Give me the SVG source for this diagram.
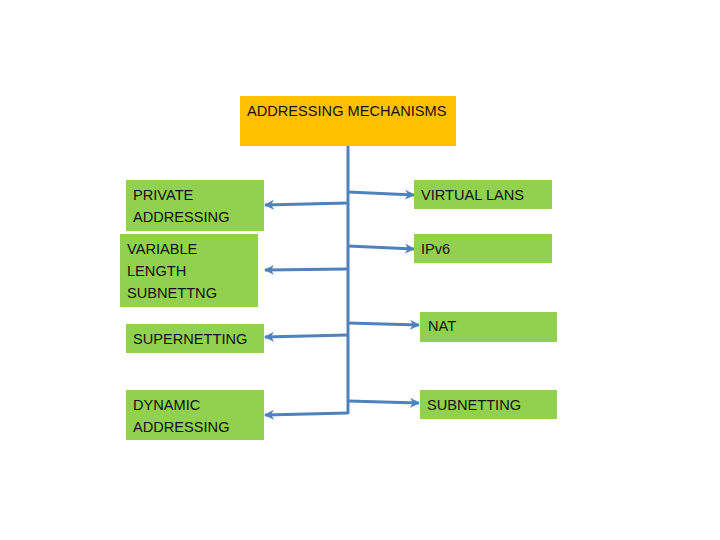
<svg xmlns="http://www.w3.org/2000/svg" width="720" height="540" viewBox="0 0 720 540">
<defs>
<style>
.g{fill:#92D050}
.o{fill:#FFC000}
text{font-family:"Liberation Sans",Arial,sans-serif;font-size:14.6px;fill:#111}
.c{stroke:#4F81BD;stroke-width:3;fill:none}
</style>
<marker id="ah" markerWidth="11" markerHeight="11" refX="9" refY="5.5" orient="auto" markerUnits="userSpaceOnUse" viewBox="0 0 11 11">
<path d="M0,0.5 L10,5.5 L0,10.5 L3,5.5 Z" fill="#4F81BD"/>
</marker>
</defs>
<rect width="720" height="540" fill="#fff"/>
<g id="connectors">
<line class="c" x1="348" y1="146" x2="348" y2="414"/>
<line class="c" x1="348" y1="203" x2="265" y2="205" marker-end="url(#ah)"/>
<line class="c" x1="348" y1="269" x2="265" y2="270" marker-end="url(#ah)"/>
<line class="c" x1="348" y1="335" x2="265" y2="337" marker-end="url(#ah)"/>
<line class="c" x1="348" y1="413" x2="265" y2="415" marker-end="url(#ah)"/>
<line class="c" x1="348" y1="192" x2="414" y2="195" marker-end="url(#ah)"/>
<line class="c" x1="348" y1="246" x2="414" y2="249" marker-end="url(#ah)"/>
<line class="c" x1="348" y1="323" x2="419" y2="325" marker-end="url(#ah)"/>
<line class="c" x1="348" y1="401" x2="419" y2="403" marker-end="url(#ah)"/>
</g>
<g id="addressing-mechanisms">
<rect class="o" x="240" y="96" width="216" height="50"/>
<text x="247" y="116">ADDRESSING MECHANISMS</text>
</g>
<g id="private-addressing">
<rect class="g" x="126" y="180" width="138" height="51"/>
<text x="133" y="200">PRIVATE</text>
<text x="133" y="222">ADDRESSING</text>
</g>
<g id="variable-length-subnetting">
<rect class="g" x="120" y="234" width="138" height="73"/>
<text x="127" y="254">VARIABLE</text>
<text x="127" y="276">LENGTH</text>
<text x="127" y="298">SUBNETTNG</text>
</g>
<g id="supernetting">
<rect class="g" x="126" y="324" width="138" height="29"/>
<text x="133" y="344">SUPERNETTING</text>
</g>
<g id="dynamic-addressing">
<rect class="g" x="126" y="390" width="138" height="50"/>
<text x="133" y="410">DYNAMIC</text>
<text x="133" y="432">ADDRESSING</text>
</g>
<g id="virtual-lans">
<rect class="g" x="414" y="180" width="138" height="29"/>
<text x="421" y="200">VIRTUAL LANS</text>
</g>
<g id="ipv6">
<rect class="g" x="414" y="234" width="138" height="29"/>
<text x="421" y="254">IPv6</text>
</g>
<g id="nat">
<rect class="g" x="420" y="312" width="137" height="30"/>
<text x="428" y="331">NAT</text>
</g>
<g id="subnetting">
<rect class="g" x="420" y="390" width="137" height="29"/>
<text x="427" y="410">SUBNETTING</text>
</g>
</svg>
